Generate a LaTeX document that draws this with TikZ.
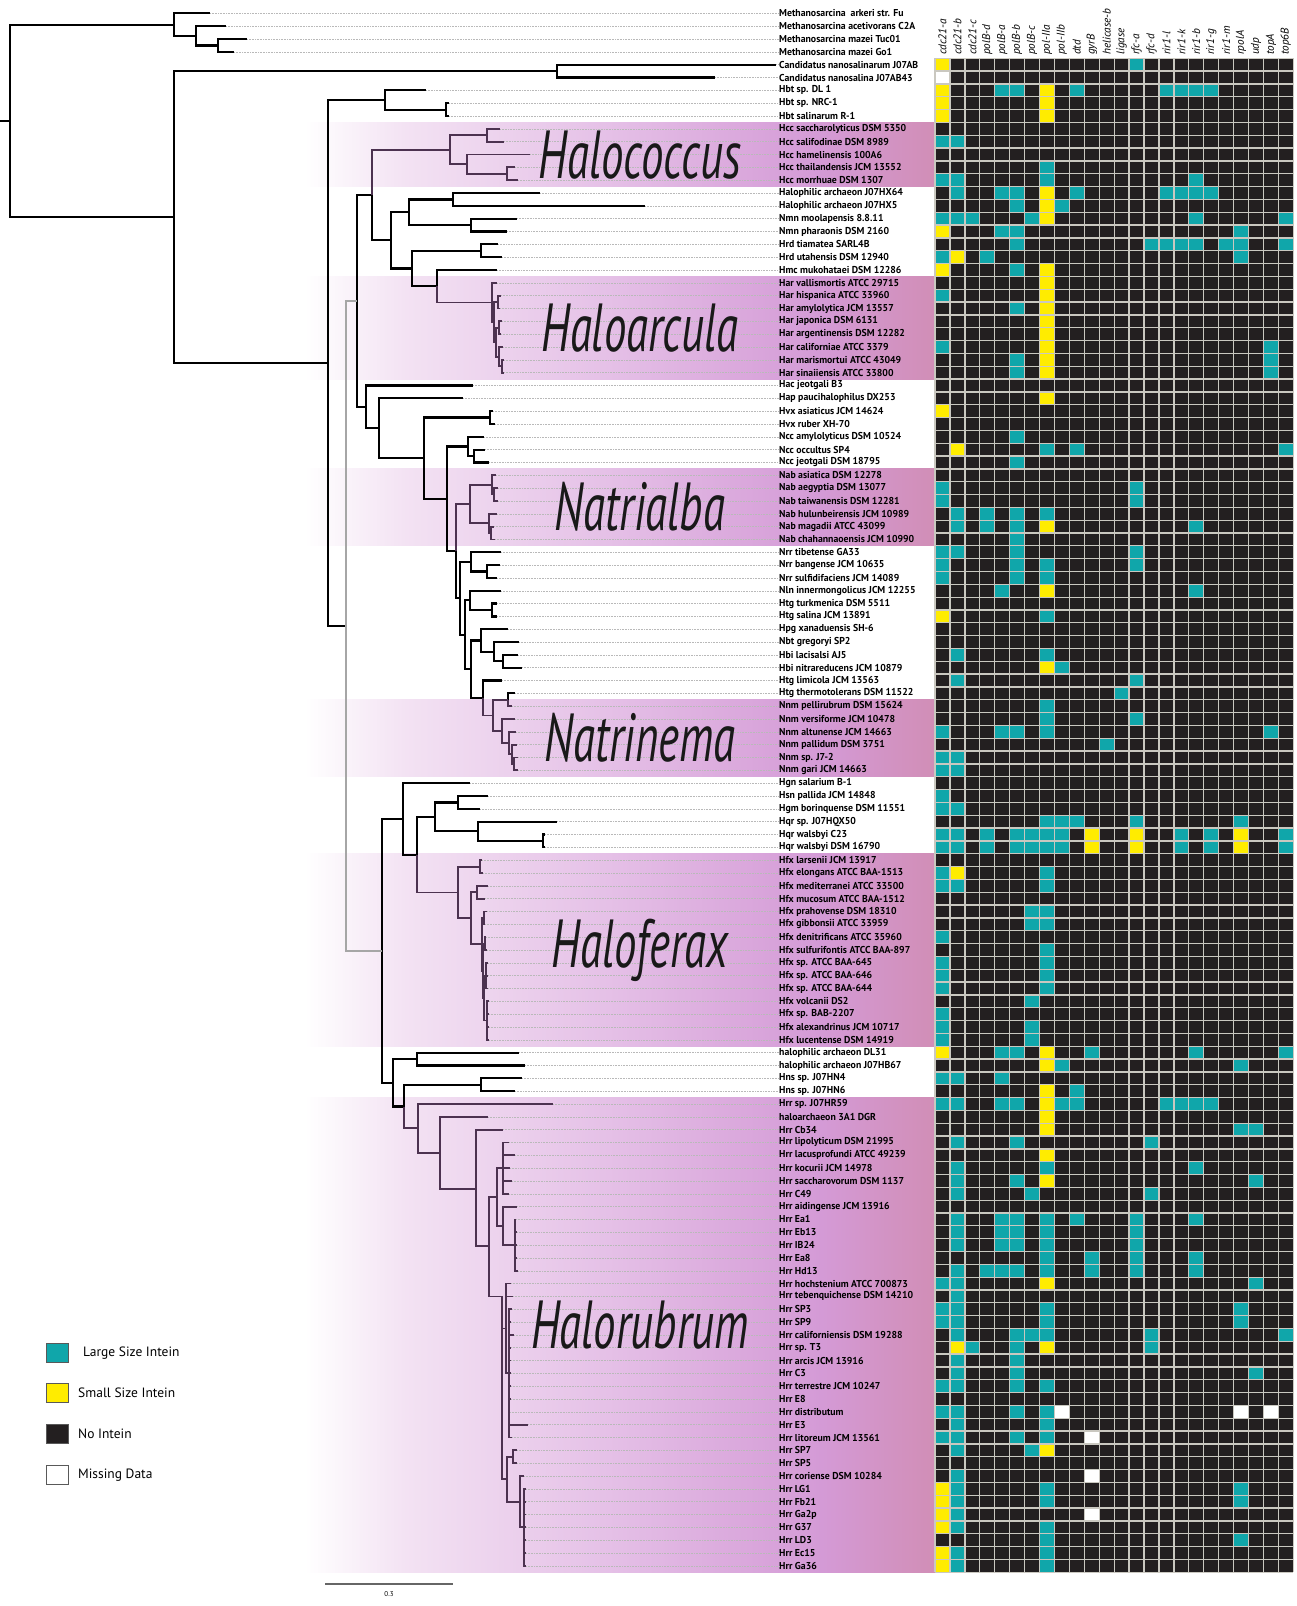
\documentclass[tikz,border=0pt]{standalone}
\usepackage{fontspec}
\setmainfont{PT Sans}
\usepackage{tikz}
\definecolor{cT}{RGB}{16,166,170}
\definecolor{cY}{RGB}{255,236,0}
\definecolor{cK}{RGB}{35,31,32}
\definecolor{cW}{RGB}{255,255,255}
\definecolor{gridc}{RGB}{202,200,192}
\definecolor{cladec}{RGB}{76,50,80}
\definecolor{bandA}{RGB}{243,226,243}
\definecolor{bandB}{RGB}{228,190,230}
\definecolor{bandC}{RGB}{212,154,214}
\definecolor{bandD}{RGB}{209,142,182}
\pgfdeclarehorizontalshading{band}{100bp}{color(0bp)=(white); color(25bp)=(white); color(33bp)=(bandA); color(50bp)=(bandB); color(66bp)=(bandC); color(75bp)=(bandD); color(100bp)=(bandD)}
\newcommand{\ry}[1]{58.3+(#1-4.5)*12.83}
\newcommand{\nar}[1]{\scalebox{0.98}[1]{#1}}
\newcommand{\cl}[1]{\scalebox{0.66}[1]{#1}}

\begin{document}
\begin{tikzpicture}[x=1pt,y=-1pt,
  br/.style={line width=2.2pt,black},
  gbr/.style={line width=2.2pt,gray!70},
  cbr/.style={line width=1.8pt,cladec},
  leader/.style={gray!55,line width=0.5pt,dash pattern=on 1pt off 0.6pt},
  taxon/.style={anchor=west,inner sep=0pt,font=\bfseries\fontsize{10}{10}\selectfont},
  colhead/.style={rotate=90,anchor=west,inner sep=0pt,font=\itshape\fontsize{11.2}{11.2}\selectfont},
  clade/.style={inner sep=0pt,font=\itshape\fontsize{68}{68}\selectfont,text=black!90},
  grid/.style={gridc,line width=1.3pt},
  legbox/.style={draw=black!65,line width=0.8pt,minimum width=22pt,minimum height=19pt,inner sep=0pt},
  legtext/.style={anchor=west,inner sep=0pt,font=\fontsize{13.5}{13.5}\selectfont}]
\useasboundingbox (0,0) rectangle (1296,1606);

% clade bands
\foreach \a/\b in {6/10,18/25,33/38,51/56,63/77,82/118}
  \shade[shading=band] (305,{58.3+(\a-1)*12.83}) rectangle (935,{58.3+\b*12.83});

% leaves
\foreach \i/\x in {1/210,2/226,3/247,4/234,5/776,6/715,7/426,8/449,9/449,10/500,11/504,12/530,13/515,14/518,15/540,16/645,17/517,18/507,19/498,20/502,21/497,22/497,23/501,24/500,25/502,26/501,27/503,28/504,29/504,30/473,31/463,32/493,33/495,34/484,35/485,36/489,37/496,38/498,39/498,40/497,41/494,42/495,43/501,44/500,45/497,46/501,47/497,48/497,49/508,50/519,51/518,52/522,53/502,54/515,55/512,56/515,57/516,58/517,59/518,60/518,61/470,62/488,63/480,64/557,65/545,66/545,67/482,68/483,69/488,70/485,71/487,72/485,73/486,74/487,75/488,76/488,77/488,78/489,79/489,80/489,81/489,82/519,83/525,84/522,85/515,86/553,87/488,88/503,89/509,90/515,91/510,92/512,93/509,94/517,95/516,96/517,97/517,98/517,99/518,100/511,101/513,102/512,103/511,104/514,105/511,106/511,107/511,108/511,109/511,110/510,111/528,112/512,113/517,114/517,115/524,116/526,117/526,118/526,119/526,120/526,121/526,122/526}
  \coordinate (t\i) at (\x,{\ry{\i}});

% inner nodes
\foreach \n/\x/\k in {root/10/9.38,M/174/1.875,M1/196/2.75,M2/218/3.5,B/174/16.88,C/557/5.5,H/328/28.25,Hb/385/7.75,Hb2/446/8.5,core/346/48.74,
  K/357/23.41,K1/372/15.16,Hcc/450/11.625,Hc1/487/10.5,Hc2/467/12.75,Hc3/507/13.5,K1b/391/18.69,K1c/409/16.5,X1/453/15.5,X2/471/17.5,
  K1d/412/20.88,X3/481/19.5,X4/437/22.27,Har/492/23.53,Ha1/494/25.06,Ha2/498/23.5,Ha3/496/26.625,Ha4/499/25.5,Ha5/499/27.75,Ha6/502/28.5,
  K2/366/31.67,K3/379/33.34,K4/424/35.67,K5/490/32.5,K6/447/38.84,K7/468/34.75,K7b/474/35.5,K8/456/42.92,
  Nab/470/39.25,Nb1/492/37.75,Nb1a/494/38.5,Nb2/489/40.75,Nb2a/491/41.5,K9/460/46.59,K10/471/43.75,K10b/487/44.5,
  K11/465/49.43,K12/470/46.75,K12b/492/47.5,K13/471/52.12,K14/481/49.875,K14b/494/50.75,K14c/503/51.5,K15/483/54.36,
  Nnm/493/55.72,P/508/54.5,Q/502/56.94,Q1/509/57.875,Q2/512/58.75,Q3/514/59.5,
  L/382/74.07,L1/403/63.79,L3/417/66.57,L4/435/63.625,L5/458/62.5,L6/478/64.75,L7/543/65.5,
  Hfx/458/69.52,F1/480/67.5,F2/471/71.53,F3/477/69.5,F4/482/73.56,F5/484/71.5,F6/483/75.625,F7/485/73.5,F8/484/77.75,F9/486/76,F10/487/79.5,
  L2/393/84.35,L8/417/82.5,L9/404/86.2,L10/481/84.5,Hrr/418/87.9,G1/440/89.8,G2/476/92.6,G3/489/97.1,G4/497/93.25,G5/502/101,
  G6/503/91,G7/503/95.5,G8/515/97,G9/506/103.5,G10/507/115.25,G11/509/107,G12/513/113.5,G13/520/117,G14/524/119}
  \coordinate (\n) at (\x,{\ry{\k}});
\coordinate (r0) at (0,{\ry{9.38}});

% tree
\draw[br] (r0) -- (root);
\foreach \p/\c in {root/M,root/B,M/t1,M/M1,M1/t2,M1/M2,M2/t3,M2/t4,B/C,B/H,C/t5,C/t6,
  H/Hb,H/core,Hb/t7,Hb/Hb2,Hb2/t8,Hb2/t9,K/K1,K/K2,K1/K1b,
  K1b/K1c,K1b/K1d,K1c/X1,K1c/X2,X1/t15,X1/t16,X2/t17,X2/t18,K1d/X3,K1d/X4,X3/t19,X3/t20,X4/t21,
  K2/t30,K2/K3,K3/t31,K3/K4,K4/K5,K4/K6,K5/t32,K5/t33,K6/K7,K6/K8,K7/t34,K7/K7b,K7b/t35,K7b/t36,
  K8/K9,K9/K10,K9/K11,K10/t43,K10/K10b,K10b/t44,K10b/t45,K11/K12,K11/K13,K12/t46,K12/K12b,K12b/t47,K12b/t48,
  K13/K14,K13/K15,K14/t49,K14/K14b,K14b/t50,K14b/K14c,K14c/t51,K14c/t52,K15/t53,P/t54,
  L/L1,L/L2,L1/t61,L1/L3,L3/L4,L4/L5,L4/L6,L5/t62,L5/t63,L6/t64,L6/L7,L7/t65,L7/t66,
  L2/L8,L2/L9,L8/t82,L8/t83,L9/L10,L10/t84,L10/t85}
  \draw[br] (\p) |- (\c);
\foreach \p/\c in {core/K,core/L}
  \draw[gbr] (\p) |- (\c);
\foreach \p/\c in {K1/Hcc,Hcc/Hc1,Hcc/Hc2,Hc1/t10,Hc1/t11,Hc2/t12,Hc2/Hc3,Hc3/t13,Hc3/t14,
  X4/Har,Har/t22,Har/Ha1,Ha1/Ha2,Ha1/Ha3,Ha2/t23,Ha2/t24,Ha3/Ha4,Ha3/Ha5,Ha4/t25,Ha4/t26,Ha5/t27,Ha5/Ha6,Ha6/t28,Ha6/t29,
  K8/Nab,Nab/Nb1,Nab/Nb2,Nb1/t37,Nb1/Nb1a,Nb1a/t38,Nb1a/t39,Nb2/t40,Nb2/Nb2a,Nb2a/t41,Nb2a/t42,
  K15/Nnm,Nnm/P,Nnm/Q,P/t55,Q/t56,Q/Q1,Q1/t57,Q1/Q2,Q2/t58,Q2/Q3,Q3/t59,Q3/t60,
  L3/Hfx,Hfx/F1,Hfx/F2,F1/t67,F1/t68,F2/F3,F2/F4,F3/t69,F3/t70,F4/F5,F4/F6,F5/t71,F5/t72,F6/F7,F6/F8,F7/t73,F7/t74,
  F8/F9,F8/F10,F9/t75,F9/t76,F9/t77,F10/t78,F10/t79,F10/t80,F10/t81,
  L9/Hrr,Hrr/t86,Hrr/G1,G1/t87,G1/G2,G2/t88,G2/G3,G3/G4,G3/G5,G4/G6,G4/G7,G6/t89,G6/t90,G6/t91,G6/t92,G6/t93,
  G7/t94,G7/G8,G8/t95,G8/t96,G8/t97,G8/t98,G8/t99,G5/G9,G5/G10,G9/t100,G9/t101,G9/G11,
  G11/t102,G11/t103,G11/t104,G11/t105,G11/t106,G11/t107,G11/t108,G11/t109,G11/t110,G11/t111,G11/t112,
  G10/G12,G10/G13,G12/t113,G12/t114,G13/t115,G13/G14,G14/t116,G14/t117,G14/t118,G14/t119,G14/t120,G14/t121,G14/t122}
  \draw[cbr] (\p) |- (\c);

% taxa
\foreach \i/\s in {1/Methanosarcina\enspace arkeri str. Fu,2/Methanosarcina acetivorans C2A,3/Methanosarcina mazei Tuc01,4/Methanosarcina mazei Go1,
  5/Candidatus nanosalinarum J07AB,6/Candidatus nanosalina J07AB43,7/Hbt sp. DL 1,8/Hbt sp. NRC-1,9/Hbt salinarum R-1,
  10/Hcc saccharolyticus DSM 5350,11/Hcc salifodinae DSM 8989,12/Hcc hamelinensis 100A6,13/Hcc thailandensis JCM 13552,14/Hcc morrhuae DSM 1307,
  15/Halophilic archaeon J07HX64,16/Halophilic archaeon J07HX5,17/Nmn moolapensis 8.8.11,18/Nmn pharaonis DSM 2160,
  19/Hrd tiamatea SARL4B,20/Hrd utahensis DSM 12940,21/Hmc mukohataei DSM 12286,22/Har vallismortis ATCC 29715,
  23/Har hispanica ATCC 33960,24/Har amylolytica JCM 13557,25/Har japonica DSM 6131,26/Har argentinensis DSM 12282,
  27/Har californiae ATCC 3379,28/Har marismortui ATCC 43049,29/Har sinaiiensis ATCC 33800,30/Hac jeotgali B3,
  31/Hap paucihalophilus DX253,32/Hvx asiaticus JCM 14624,33/Hvx ruber XH-70,34/Ncc amylolyticus DSM 10524,
  35/Ncc occultus SP4,36/Ncc jeotgali DSM 18795,37/Nab asiatica DSM 12278,38/Nab aegyptia DSM 13077,
  39/Nab taiwanensis DSM 12281,40/Nab hulunbeirensis JCM 10989,41/Nab magadii ATCC 43099,42/Nab chahannaoensis JCM 10990,
  43/Nrr tibetense GA33,44/Nrr bangense JCM 10635,45/Nrr sulfidifaciens JCM 14089,46/Nln innermongolicus JCM 12255,
  47/Htg turkmenica DSM 5511,48/Htg salina JCM 13891,49/Hpg xanaduensis SH-6,50/Nbt gregoryi SP2,51/Hbi lacisalsi AJ5,
  52/Hbi nitrareducens JCM 10879,53/Htg limicola JCM 13563,54/Htg thermotolerans DSM 11522,55/Nnm pellirubrum DSM 15624,
  56/Nnm versiforme JCM 10478,57/Nnm altunense JCM 14663,58/Nnm pallidum DSM 3751,59/Nnm sp. J7-2,60/Nnm gari JCM 14663,
  61/Hgn salarium B-1,62/Hsn pallida JCM 14848,63/Hgm borinquense DSM 11551,64/Hqr sp. J07HQX50,65/Hqr walsbyi C23,
  66/Hqr walsbyi DSM 16790,67/Hfx larsenii JCM 13917,68/Hfx elongans ATCC BAA-1513,69/Hfx mediterranei ATCC 33500,
  70/Hfx mucosum ATCC BAA-1512,71/Hfx prahovense DSM 18310,72/Hfx gibbonsii ATCC 33959,73/Hfx denitrificans ATCC 35960,
  74/Hfx sulfurifontis ATCC BAA-897,75/Hfx sp. ATCC BAA-645,76/Hfx sp. ATCC BAA-646,77/Hfx sp. ATCC BAA-644,
  78/Hfx volcanii DS2,79/Hfx sp. BAB-2207,80/Hfx alexandrinus JCM 10717,81/Hfx lucentense DSM 14919,
  82/halophilic archaeon DL31,83/halophilic archaeon J07HB67,84/Hns sp. J07HN4,85/Hns sp. J07HN6,86/Hrr sp. J07HR59,
  87/haloarchaeon 3A1 DGR,88/Hrr Cb34,89/Hrr lipolyticum DSM 21995,90/Hrr lacusprofundi ATCC 49239,91/Hrr kocurii JCM 14978,
  92/Hrr saccharovorum DSM 1137,93/Hrr C49,94/Hrr aidingense JCM 13916,95/Hrr Ea1,96/Hrr Eb13,97/Hrr IB24,98/Hrr Ea8,
  99/Hrr Hd13,100/Hrr hochstenium ATCC 700873,101/Hrr tebenquichense DSM 14210,102/Hrr SP3,103/Hrr SP9,
  104/Hrr californiensis DSM 19288,105/Hrr sp. T3,106/Hrr arcis JCM 13916,107/Hrr C3,108/Hrr terrestre JCM 10247,
  109/Hrr E8,110/Hrr distributum,111/Hrr E3,112/Hrr litoreum JCM 13561,113/Hrr SP7,114/Hrr SP5,115/Hrr coriense DSM 10284,
  116/Hrr LG1,117/Hrr Fb21,118/Hrr Ga2p,119/Hrr G37,120/Hrr LD3,121/Hrr Ec15,122/Hrr Ga36}
  \node[taxon] (n\i) at (779,{\ry{\i}}) {\nar{\s}};
\foreach \i in {1,...,122}
  \draw[leader] (t\i) -- (n\i.west);

% clade names
\node[clade] (lHcc) at (640,155) {\cl{Halococcus}};
\node[clade] (lHar) at (640,328) {\cl{Haloarcula}};
\node[clade] (lNab) at (640,507) {\cl{Natrialba}};
\node[clade] (lNnm) at (640,738) {\cl{Natrinema}};
\node[clade] (lHfx) at (640,950) {\cl{Haloferax}};
\node[clade] (lHrr) at (640,1325) {\cl{Halorubrum}};

% intein map
\fill[cK] (935,58.3) rectangle (1293.3,1572.2);
\foreach \r/\cs in {1/{1/Y,14/T},2/{1/W},3/{1/Y,5/T,6/T,8/Y,10/T,16/T,17/T,18/T,19/T},4/{1/Y,8/Y},5/{1/Y,8/Y},
  7/{1/T,2/T},9/{8/T},10/{1/T,2/T,8/T,18/T},11/{2/T,5/T,6/T,8/Y,10/T,16/T,17/T,18/T,19/T},12/{6/T,8/Y,9/T},
  13/{1/T,2/T,3/T,7/T,8/Y,18/T,24/T},14/{1/Y,5/T,6/T,21/T},15/{6/T,15/T,16/T,17/T,18/T,20/T,21/T,24/T},
  16/{1/T,2/Y,4/T,21/T},17/{1/Y,6/T,8/Y},18/{8/Y},19/{1/T,8/Y},20/{6/T,8/Y},21/{8/Y},22/{8/Y},
  23/{1/T,8/Y,23/T},24/{6/T,8/Y,23/T},25/{6/T,8/Y,23/T},27/{8/Y},28/{1/Y},30/{6/T},31/{2/Y,8/T,10/T,24/T},
  32/{6/T},34/{1/T,14/T},35/{1/T,14/T},36/{2/T,4/T,6/T,8/T},37/{2/T,4/T,6/T,8/Y,18/T},38/{6/T},
  39/{1/T,2/T,6/T,14/T},40/{1/T,6/T,8/T,14/T},41/{1/T,6/T,8/T},42/{5/T,8/Y,18/T},44/{1/Y,8/T},47/{2/T,8/T},
  48/{8/Y,9/T},49/{2/T,14/T},50/{13/T},51/{8/T},52/{8/T,14/T},53/{1/T,5/T,6/T,8/T,23/T},54/{12/T},
  55/{1/T,2/T},56/{1/T,2/T},58/{1/T},59/{1/T,2/T},60/{8/T,9/T,10/T,14/T,21/T},
  61/{1/T,2/T,4/T,6/T,7/T,8/T,9/T,11/Y,14/Y,17/T,19/T,21/Y,24/T},62/{1/T,2/T,4/T,6/T,7/T,8/T,9/T,11/Y,14/Y,17/T,19/T,21/Y,24/T},
  64/{1/T,2/Y,8/T},65/{1/T,2/T,8/T},67/{7/T,8/T},68/{7/T,8/T},69/{1/T},70/{8/T},71/{1/T,8/T},72/{1/T,8/T},
  73/{1/T,8/T},74/{7/T},75/{1/T},76/{1/T,7/T},77/{1/T,7/T},78/{1/Y,5/T,6/T,8/Y,11/T,18/T,24/T},79/{8/Y,9/T,21/T},
  80/{1/T,2/T,5/T},81/{8/Y,10/T},82/{1/T,2/T,5/T,6/T,8/Y,9/T,10/T,16/T,17/T,18/T,19/T},83/{8/Y},84/{8/Y,21/T,22/T},
  85/{2/T,6/T,15/T},86/{8/Y},87/{2/T,8/T,18/T},88/{2/T,6/T,8/Y,22/T},89/{2/T,7/T,15/T},
  91/{2/T,5/T,6/T,8/T,10/T,14/T,18/T},92/{2/T,5/T,6/T,8/T,14/T},93/{2/T,5/T,6/T,8/T,14/T},94/{8/T,11/T,14/T,18/T},
  95/{2/T,4/T,5/T,6/T,8/T,11/T,14/T,18/T},96/{1/T,2/T,8/Y,22/T},97/{2/T},98/{1/T,2/T,8/T,21/T},99/{1/T,2/T,8/T,21/T},
  100/{2/T,6/T,7/T,8/T,15/T,24/T},101/{2/Y,3/T,6/T,8/Y,15/T},102/{2/T,6/T},103/{2/T,6/T,22/T},104/{1/T,2/T,6/T,8/T},
  106/{1/T,2/T,6/T,8/T,9/W,21/W,23/W},107/{2/T,8/T},108/{1/T,2/T,6/T,8/T,11/W},109/{2/T,7/T,8/Y},111/{2/T,11/W},
  112/{1/Y,2/T,8/T,21/T},113/{1/Y,2/T,8/T,21/T},114/{1/Y,2/T,11/W},115/{1/Y,2/T,8/T},116/{8/T,21/T},
  117/{1/Y,2/T,8/T},118/{1/Y,2/T,8/T}}
  \foreach \c/\k in \cs
    \fill[c\k] ({935+(\c-1)*14.93},{58.3+(\r-1)*12.83}) rectangle ++(14.93,12.83);
\foreach \c in {0,...,24}
  \draw[grid] ({935+\c*14.93},58.3) -- ++(0,1513.9);
\foreach \r in {0,...,118}
  \draw[grid] (935,{58.3+\r*12.83}) -- ++(358.3,0);
\foreach \c/\g in {1/cdc21-a,2/cdc21-b,3/cdc21-c,4/polB-d,5/polB-a,6/polB-b,7/polB-c,8/pol-IIa,9/pol-IIb,10/dtd,
  11/gyrB,12/helicase-b,13/ligase,14/rfc-a,15/rfc-d,16/rir1-l,17/rir1-k,18/rir1-b,19/rir1-g,20/rir1-m,21/rpolA,22/udp,23/topA,24/top6B}
  \node[colhead] (h\c) at ({935+(\c-0.5)*14.93},55) {\g};

% legend
\node[legbox,fill=cT] (k1) at (57,1352.5) {};
\node[legbox,fill=cY] (k2) at (57,1393) {};
\node[legbox,fill=cK] (k3) at (57,1434) {};
\node[legbox,fill=white] (k4) at (57,1475) {};
\node[legtext] (k1t) at (83,1353) {Large Size Intein};
\node[legtext] (k2t) at (78,1393) {Small Size Intein};
\node[legtext] (k3t) at (78,1434) {No Intein};
\node[legtext] (k4t) at (78,1475) {Missing Data};

% scale bar
\coordinate (sb1) at (325,1584);
\coordinate (sb2) at (453,1584);
\draw[gray!80!black,line width=1.2pt] (sb1) -- (sb2);
\node[font=\fontsize{7}{7}\selectfont,inner sep=0pt] (sbt) at (389,1594) {0.3};
\end{tikzpicture}
\end{document}
